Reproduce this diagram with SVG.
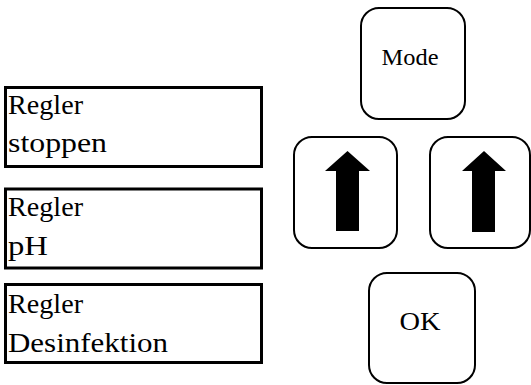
<svg xmlns="http://www.w3.org/2000/svg" width="531" height="385" viewBox="0 0 531 385">
<style>
.box{fill:#fff;stroke:#000;stroke-width:3}
.btn{fill:#fff;stroke:#000;stroke-width:2}
.t{font-size:28px;fill:#000}
.bt{font-size:23px;fill:#000;text-anchor:middle}
.arr{fill:#000}
</style>
<rect width="531" height="385" fill="#fff"/>
<g font-family="'Liberation Serif', 'DejaVu Serif', 'Times New Roman', serif">
<g id="regler-stoppen">
<rect class="box" x="5.5" y="87.5" width="256" height="79"/>
<text class="t" x="8" y="114" textLength="75" lengthAdjust="spacingAndGlyphs">Regler</text>
<text class="t" x="8" y="152" textLength="99" lengthAdjust="spacingAndGlyphs">stoppen</text>
</g>
<g id="regler-ph">
<rect class="box" x="5.5" y="189" width="256" height="79"/>
<text class="t" x="8" y="216" textLength="75" lengthAdjust="spacingAndGlyphs">Regler</text>
<text class="t" x="8" y="255" textLength="40" lengthAdjust="spacingAndGlyphs">pH</text>
</g>
<g id="regler-desinfektion">
<rect class="box" x="5.5" y="284.5" width="256" height="78"/>
<text class="t" x="8" y="313" textLength="75" lengthAdjust="spacingAndGlyphs">Regler</text>
<text class="t" x="8" y="352" textLength="160" lengthAdjust="spacingAndGlyphs">Desinfektion</text>
</g>
<g id="mode">
<rect class="btn" x="361" y="8" width="104" height="111" rx="18"/>
<text class="bt" x="410" y="65" textLength="57" lengthAdjust="spacingAndGlyphs">Mode</text>
</g>
<g id="up-left">
<rect class="btn" x="294" y="137" width="103" height="111" rx="18"/>
<polygon class="arr" points="347.5,151 370,171 359,171 359,231 336,231 336,171 325,171"/>
</g>
<g id="up-right">
<rect class="btn" x="430" y="137" width="100" height="111" rx="18"/>
<polygon class="arr" points="484,151 506,171 495,171 495,232 472,232 472,171 462,171"/>
</g>
<g id="ok">
<rect class="btn" x="369" y="273" width="106" height="110" rx="18"/>
<text class="bt" x="420" y="330" style="font-size:25px" textLength="41" lengthAdjust="spacingAndGlyphs">OK</text>
</g>
</g>
<g id="connectors"></g>
</svg>
